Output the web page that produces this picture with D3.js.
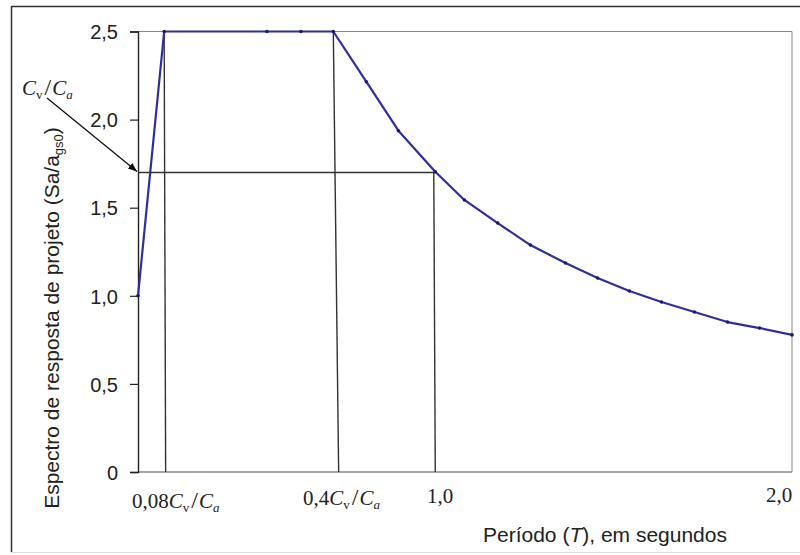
<!DOCTYPE html>
<html>
<head>
<meta charset="utf-8">
<script src="https://cdn.jsdelivr.net/npm/d3@7"></script>
<style>
  html, body { margin: 0; padding: 0; background: #fff; }
  svg { display: block; }
</style>
</head>
<body>
<svg id="chart" width="800" height="555"></svg>
<script>
// ---- data ----
const periods = [0, 0.088, 0.434, 0.548, 0.657, 0.768, 0.876, 1.0, 1.098, 1.21, 1.32, 1.438, 1.546, 1.653, 1.761, 1.872, 1.983, 2.091, 2.2];
const spectrum = [1.0, 2.5, 2.5, 2.5, 2.5, 2.215, 1.937, 1.704, 1.544, 1.413, 1.288, 1.186, 1.101, 1.027, 0.965, 0.908, 0.851, 0.817, 0.778];
const yTicks = [0, 0.5, 1.0, 1.5, 2.0, 2.5];
const yTickLabels = ["0", "0,5", "1,0", "1,5", "2,0", "2,5"];
const cvca = 1.7;               // Cv/Ca level
const refVerticals = [          // [T at top, T at bottom, value at top]
  [0.088, 0.093, 2.5],
  [0.657, 0.675, 2.5],
  [0.995, 1.0, 1.7]
];

(function () {
const svg = d3.select("#chart");
const W = 800, H = 555;
const pLeft = 138, pRight = 792, pTop = 31.5, pBottom = 472;

svg.append("rect").attr("width", W).attr("height", H).attr("fill", "#fff");

// outer frame
svg.append("line").attr("x1", 11).attr("y1", 6.5).attr("x2", 800).attr("y2", 6.5).attr("stroke", "#333").attr("stroke-width", 1.5);
svg.append("line").attr("x1", 11.5).attr("y1", 6).attr("x2", 11.5).attr("y2", 552).attr("stroke", "#333").attr("stroke-width", 1.5);
svg.append("line").attr("x1", 11).attr("y1", 552.5).attr("x2", 800).attr("y2", 552.5).attr("stroke", "#ddd").attr("stroke-width", 1);

const x = d3.scaleLinear().domain([0, 2.2]).range([pLeft, pRight]);
const y = d3.scaleLinear().domain([0, 2.5]).range([pBottom, pTop]);

// plot area border (top & right, gray)
svg.append("line").attr("x1", pLeft).attr("y1", pTop).attr("x2", pRight).attr("y2", pTop).attr("stroke", "#8a8a8a").attr("stroke-width", 1.2);
svg.append("line").attr("x1", pRight).attr("y1", pTop).attr("x2", pRight).attr("y2", pBottom).attr("stroke", "#9a9a9a").attr("stroke-width", 1.2);

// x axis line (gray)
svg.append("line").attr("x1", pLeft).attr("y1", pBottom).attr("x2", pRight).attr("y2", pBottom).attr("stroke", "#8a8a8a").attr("stroke-width", 1.4);

// y axis
const yAxis = d3.axisLeft(y).tickValues(yTicks).tickSize(8).tickFormat((d, i) => yTickLabels[i]);
const gy = svg.append("g").attr("transform", `translate(${pLeft},0)`).call(yAxis);
gy.select(".domain").attr("stroke", "#222").attr("stroke-width", 1.4);
gy.selectAll(".tick line").attr("stroke", "#222").attr("stroke-width", 1.2);
gy.selectAll(".tick text")
  .attr("font-family", "'Liberation Sans', Arial, sans-serif")
  .attr("font-size", 20).attr("fill", "#222").attr("x", -20).attr("dy", "0.36em");

// reference lines
svg.append("line")
  .attr("x1", x(0)).attr("y1", y(cvca)).attr("x2", x(1.0)).attr("y2", y(cvca))
  .attr("stroke", "#333").attr("stroke-width", 1.4);
svg.selectAll(".vref").data(refVerticals).enter().append("line")
  .attr("x1", d => x(d[0])).attr("y1", d => y(d[2]))
  .attr("x2", d => x(d[1])).attr("y2", y(0))
  .attr("stroke", "#333").attr("stroke-width", 1.4);

// curve
const pts = periods.map((t, i) => [t, spectrum[i]]);
svg.append("path").datum(pts)
  .attr("d", d3.line().x(d => x(d[0])).y(d => y(d[1])))
  .attr("fill", "none").attr("stroke", "#2f2f9c").attr("stroke-width", 2.2)
  .attr("stroke-linejoin", "round");
svg.selectAll(".pt").data(pts).enter().append("circle")
  .attr("cx", d => x(d[0])).attr("cy", d => y(d[1])).attr("r", 1.8)
  .attr("fill", "#1a1a70");

// x labels (serif, math style)
const serif = "'Liberation Serif', 'Times New Roman', serif";
function mathLabel(xPos, yPos, prefix) {
  const t = svg.append("text").attr("x", xPos).attr("y", yPos)
    .attr("font-family", serif).attr("font-size", 21).attr("fill", "#222");
  if (prefix) t.append("tspan").text(prefix);
  t.append("tspan").attr("font-style", "italic").text("C");
  t.append("tspan").attr("font-size", 13).attr("dy", 4).text("v");
  t.append("tspan").attr("font-size", 24).attr("dy", -4).attr("dx", 2).text("/");
  t.append("tspan").attr("font-style", "italic").attr("dx", 1).text("C");
  t.append("tspan").attr("font-size", 13).attr("font-style", "italic").attr("dy", 4).text("a");
  return t;
}
mathLabel(132, 508, "0,08");
mathLabel(303, 505, "0,4");
svg.append("text").attr("x", 427).attr("y", 503).attr("font-family", serif).attr("font-size", 21).attr("fill", "#222").text("1,0");
svg.append("text").attr("x", 766).attr("y", 502).attr("font-family", serif).attr("font-size", 21).attr("fill", "#222").text("2,0");

// Cv/Ca annotation with arrow
mathLabel(22, 95, null);
svg.append("defs").append("marker")
  .attr("id", "arr").attr("viewBox", "0 0 10 10").attr("refX", 10).attr("refY", 5)
  .attr("markerWidth", 9).attr("markerHeight", 9).attr("orient", "auto")
  .attr("markerUnits", "userSpaceOnUse")
  .append("path").attr("d", "M0,1 L10,5 L0,9 Z").attr("fill", "#111");
svg.append("line").attr("x1", 47).attr("y1", 98).attr("x2", x(0) - 1).attr("y2", y(cvca) - 1)
  .attr("stroke", "#111").attr("stroke-width", 1.3).attr("marker-end", "url(#arr)");

// axis titles
const sans = "'Liberation Sans', Arial, sans-serif";
const xt = svg.append("text").attr("x", 483).attr("y", 542)
  .attr("font-family", sans).attr("font-size", 21).attr("fill", "#222");
xt.append("tspan").text("Período (");
xt.append("tspan").attr("font-style", "italic").text("T");
xt.append("tspan").text("), em segundos");

const yt = svg.append("text").attr("transform", "translate(59,318) rotate(-90)")
  .attr("text-anchor", "middle")
  .attr("font-family", sans).attr("font-size", 21).attr("fill", "#222");
yt.append("tspan").text("Espectro de resposta de projeto (Sa/a");
yt.append("tspan").attr("font-size", 13).attr("dy", 4).text("gs0");
yt.append("tspan").attr("dy", -4).text(")");
})();
</script>
</body>
</html>
